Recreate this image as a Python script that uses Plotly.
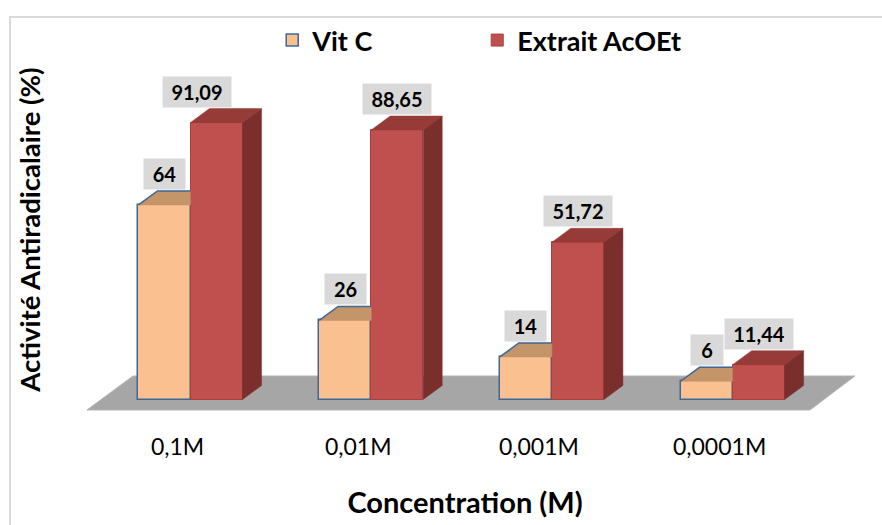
import plotly.graph_objects as go

# Data
categories = ["0,1M", "0,01M", "0,001M", "0,0001M"]
vit_c = [64, 26, 14, 6]
extrait = [91.09, 88.65, 51.72, 11.44]
vit_c_labels = ["64", "26", "14", "6"]
extrait_labels = ["91,09", "88,65", "51,72", "11,44"]

# Pseudo-3D geometry (axis units)
BAR_W = 0.288          # width of a front face
DX, DY = 0.105, 4.6    # depth offset of the top/side faces
XR = [-0.7222, 3.7604]
YR = [-3.78, 115.63]

FONT = "Lato"

ORANGE_FRONT, ORANGE_TOP, ORANGE_LINE = "#FAC090", "#C39569", "#3F6797"
RED_FRONT, RED_TOP, RED_SIDE, RED_LINE = "#C0504D", "#963B38", "#7A2F2D", "#A8413E"

fig = go.Figure()

xs = list(range(len(categories)))
x_orange = [i - BAR_W / 2 for i in xs]
x_red = [i + BAR_W / 2 for i in xs]

fig.add_trace(go.Bar(x=x_orange, y=vit_c, width=BAR_W, name="Vit C",
                     marker=dict(color=ORANGE_FRONT, line=dict(color=ORANGE_LINE, width=1.5))))
fig.add_trace(go.Bar(x=x_red, y=extrait, width=BAR_W, name="Extrait AcOEt",
                     marker=dict(color=RED_FRONT, line=dict(color=RED_LINE, width=1))))


def face(px, py, fill):
    fig.add_trace(go.Scatter(x=px + [px[0]], y=py + [py[0]], fill="toself", mode="lines",
                             fillcolor=fill, line=dict(color=fill, width=0.5),
                             hoverinfo="skip", showlegend=False))


def edge(px, py, color):
    fig.add_trace(go.Scatter(x=px, y=py, mode="lines", line=dict(color=color, width=1.5),
                             hoverinfo="skip", showlegend=False))


for i in xs:
    # Vit C top face; the part behind the Extrait bar is hidden by it
    x0, x1, v = x_orange[i] - BAR_W / 2, x_orange[i] + BAR_W / 2, vit_c[i]
    face([x0, x1, x1, x0 + DX], [v, v, v + DY, v + DY], ORANGE_TOP)
    edge([x1, x0 + DX, x0], [v + DY, v + DY, v], ORANGE_LINE)
    # Extrait top and side faces
    x0, x1, v = x_red[i] - BAR_W / 2, x_red[i] + BAR_W / 2, extrait[i]
    face([x0, x1, x1 + DX, x0 + DX], [v, v, v + DY, v + DY], RED_TOP)
    face([x1, x1 + DX, x1 + DX, x1], [0, DY, v + DY, v], RED_SIDE)

# value labels
ann = []
for xv, vals, labs, shifts in [(x_orange, vit_c, vit_c_labels, [0, 0, 0, 0]),
                               (x_red, extrait, extrait_labels, [-20, 0, 0, 0])]:
    for xi, v, s, sh in zip(xv, vals, labs, shifts):
        ann.append(dict(x=xi, y=v, text="<b>%s</b>" % s, showarrow=False,
                        yshift=31, xshift=sh, yanchor="middle",
                        bgcolor="#D9D9D9", width=9 * len(s) + 21, height=28,
                        font=dict(family=FONT, size=20, color="#000000")))

# floor of the 3D plot, drawn beneath the bars
floor_path = "M -0.573,-3.45 L 3.428,-3.45 L 3.677,7.73 L -0.318,7.73 Z"

fig.update_layout(
    width=882, height=525,
    margin=dict(l=60, r=12, t=48, b=114, autoexpand=False),
    paper_bgcolor="white", plot_bgcolor="rgba(0,0,0,0)",
    barmode="overlay", bargap=0,
    annotations=ann,
    font=dict(family=FONT, color="#000000"),
    legend=dict(orientation="h", x=0.262, y=0.9695, xanchor="left", yanchor="top",
                xref="paper", yref="container", entrywidth=160,
                font=dict(family=FONT, size=27, color="#000000", weight="bold"),
                bgcolor="rgba(0,0,0,0)"),
    shapes=[
        dict(type="rect", xref="paper", yref="paper", layer="below",
             x0=-0.0617, x1=1.05, y0=-0.35, y1=1.0854,
             line=dict(color="#D9D9D9", width=2)),
        dict(type="path", xref="x", yref="y", layer="below", path=floor_path,
             fillcolor="#A6A6A6", line=dict(color="#B4B4B4", width=1)),
    ],
    xaxis=dict(range=XR, showgrid=False, zeroline=False, showline=False,
               tickmode="array", tickvals=xs, ticktext=categories, ticks="",
               ticklabelstandoff=20, ticklabelshift=-13,
               tickfont=dict(family=FONT, size=23, color="#000000"),
               title=dict(text="<b>Concentration (M)</b>", standoff=33,
                          font=dict(family=FONT, size=29, color="#000000"))),
    yaxis=dict(range=YR, showgrid=False, zeroline=False, showline=False,
               showticklabels=False, ticks="",
               title=dict(text="<b>Activité Antiradicalaire (%)</b>", standoff=10,
                          font=dict(family=FONT, size=27.5, color="#000000"))),
)

fig.write_html("out.html")
